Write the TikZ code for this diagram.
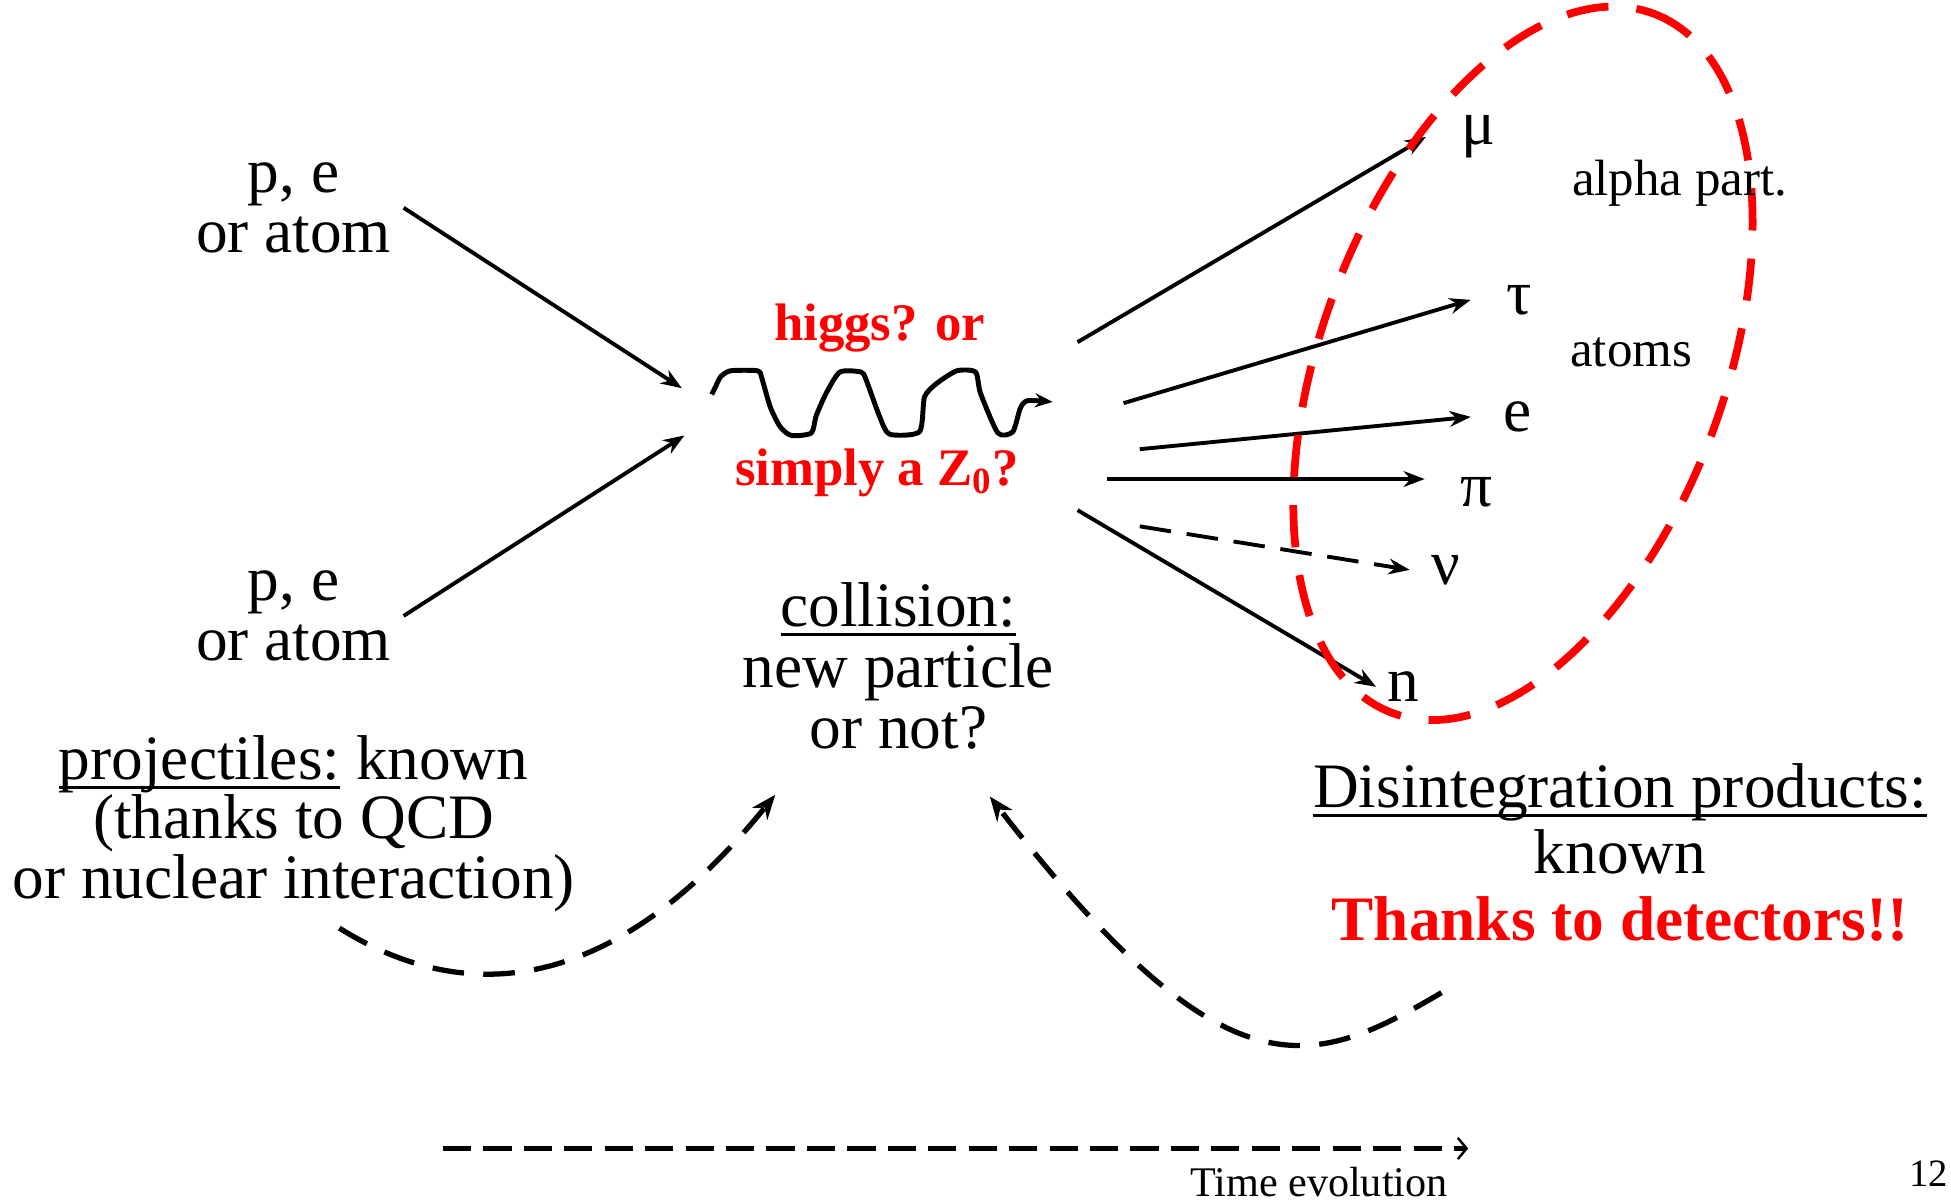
\documentclass[tikz,border=0pt]{standalone}
\usepackage{fontspec}
\setmainfont{Liberation Serif}
\usetikzlibrary{arrows.meta,positioning}
\newcommand{\ulbar}[1]{\setbox0\hbox{#1}\rlap{\rule[-2.8pt]{\wd0}{0.8pt}}\box0\relax}
\setlength{\lineskiplimit}{-10pt}

\begin{document}
\begin{tikzpicture}[x=0.012443cm,y=-0.012443cm,every node/.style={font=\fontsize{18}{17}\selectfont,align=center},
  arr/.style={line width=1.1pt,-{Stealth[length=6pt,width=4.5pt]}},
  prod/.style={anchor=west,inner xsep=10pt},
  bigdash/.style={line width=1.5pt,dash pattern=on 9pt off 5.5pt,-{Stealth[length=7pt,width=5.5pt]}},
  redb/.style={text=red,font=\fontsize{15}{18}\selectfont\bfseries}]
\useasboundingbox (0,0) rectangle (1568,965);
\node (beamA) at (236,167) {p, e\\or atom};
\node (beamB) at (236,495) {p, e\\or atom};
\coordinate (hitA) at (548,312);
\coordinate (hitB) at (550,350);
\draw[arr] (beamA.east) -- (hitA);
\draw[arr] (beamB.east) -- (hitB);
\draw[line width=1.4pt,line join=round,-{Stealth[length=5pt,width=4pt]}] plot[smooth,tension=0.4] coordinates {(572,317) (575,311) (579,303) (587,298) (609,298) (612,303) (619,327) (627,343) (636,350) (652,348) (656,334) (664,316) (675,299) (692,299) (696,305) (707,335) (715,349) (739,347) (743,319) (753,308) (769,298) (784,299) (788,316) (802,348) (814,347) (820,328) (826,322) (846,323)};
\node[redb] (higgs) at (707,264) {higgs? or};
\node[redb] (zzero) at (705,380) {simply a Z\textsubscript{0}?};
\node[font=\fontsize{18}{17.3}\selectfont] (coll) at (722,535) {\ulbar{collision:}\\new particle\\or not?};
\coordinate (vmu) at (866,275);
\coordinate (vtau) at (903,324);
\coordinate (vel) at (916,361);
\coordinate (vpi) at (890,385);
\coordinate (vnu) at (916,423);
\coordinate (vn) at (866,410);
\node[prod] (mu) at (1146,110) {μ};
\node[prod] (tau) at (1182,241) {τ};
\node[prod,inner xsep=9pt] (el) at (1182,335) {e};
\node[prod] (pi) at (1145,396) {π};
\node[prod,inner xsep=6pt] (nu) at (1133,458) {ν};
\node[prod,inner xsep=3pt] (neut) at (1106,552) {n};
\draw[arr] (vmu) -- (mu.west);
\draw[arr] (vtau) -- (tau.west);
\draw[arr] (vel) -- (el.west);
\draw[arr] (vpi) -- (vpi -| pi.west);
\draw[arr,dash pattern=on 9pt off 4.5pt] (vnu) -- (nu.west);
\draw[arr] (vn) -- (neut.west);
\draw[red,line width=2.2pt,dash pattern=on 12pt off 8pt,rotate around={69.5:(1224,292)}] (1224,292) ellipse [x radius=300,y radius=162];
\node[font=\fontsize{14.5}{17}\selectfont] (alpha) at (1350,147) {alpha part.};
\node[font=\fontsize{14.5}{17}\selectfont] (atoms) at (1311,283) {atoms};
\node[font=\fontsize{18}{19}\selectfont] (decay) at (1302,685) {\ulbar{Disintegration products:}\\known\\\textcolor{red}{\bfseries Thanks to detectors!!}};
\node (projtxt) at (236,662) {\ulbar{projectiles:} known\\(thanks to QCD\\or nuclear interaction)};
\draw[bigdash] ([xshift=13pt,yshift=-1pt]projtxt.south) .. controls +(88,55) and +(-142,175) .. ([xshift=-35pt,yshift=-9.5pt]coll.south);
\draw[bigdash] ([xshift=40pt,yshift=-11pt]decay.south west) .. controls +(-105,62) and +(190,245) .. ([xshift=26pt,yshift=-10pt]coll.south);
\coordinate (t0) at (356,923);
\coordinate (t1) at (1180,923);
\draw[line width=1.4pt,dash pattern=on 8pt off 3.5pt,-{Straight Barb[length=2.5pt,width=6pt,line width=0.7pt]}] (t0) -- (t1);
\node[font=\fontsize{12}{14}\selectfont] (time) at (1060,950) {Time evolution};
\node[font=\fontsize{11}{13}\selectfont] (pagenum) at (1550,943) {12};
\end{tikzpicture}
\end{document}
